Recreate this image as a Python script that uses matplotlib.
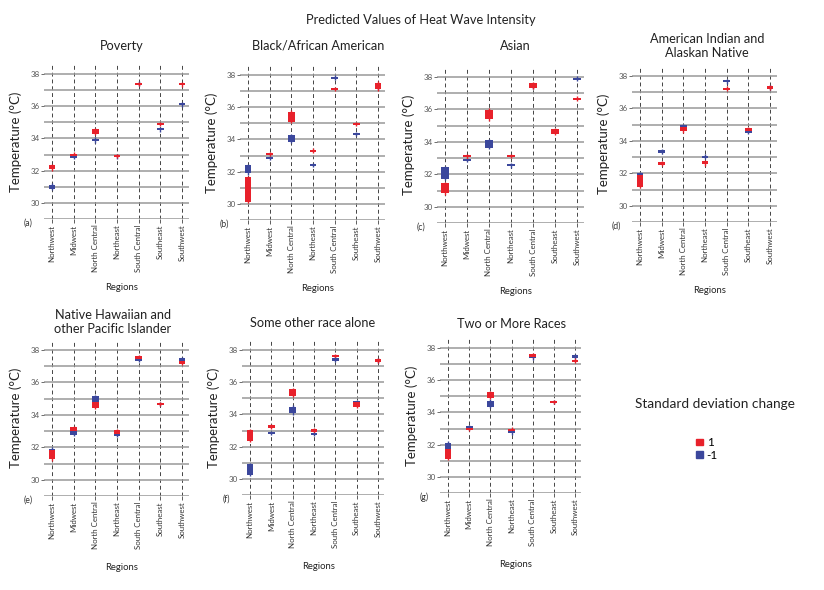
import matplotlib
matplotlib.use('Agg')
import matplotlib.pyplot as plt
from matplotlib.patches import Patch

plt.rcParams['font.family'] = ['Lato', 'DejaVu Sans']

regions = ['Northwest', 'Midwest', 'North Central', 'Northeast',
           'South Central', 'Southeast', 'Southwest']

# (low, high) of each interval box, +1 SD (red) and -1 SD (blue)
poverty_pos = [(32.08, 32.36), (32.94, 33.06), (34.27, 34.57), (32.85, 32.97),
               (37.32, 37.44), (34.83, 34.95), (37.30, 37.42)]
poverty_neg = [(30.88, 31.14), (32.80, 32.95), (33.82, 33.98), (32.82, 32.94),
               (37.35, 37.47), (34.50, 34.64), (36.05, 36.18)]

black_pos = [(30.14, 31.65), (33.05, 33.17), (35.11, 35.73), (33.24, 33.36),
             (37.06, 37.18), (34.89, 35.01), (37.11, 37.53)]
black_neg = [(31.90, 32.39), (32.80, 32.92), (33.84, 34.25), (32.35, 32.47),
             (37.77, 37.90), (34.28, 34.40), (37.14, 37.28)]

asian_pos = [(30.82, 31.44), (33.05, 33.18), (35.39, 35.99), (33.08, 33.20),
             (37.34, 37.60), (34.50, 34.80), (36.60, 36.73)]
asian_neg = [(31.74, 32.46), (32.82, 32.95), (33.65, 34.10), (32.50, 32.62),
             (37.36, 37.50), (34.60, 34.74), (37.84, 37.96)]

aian_pos = [(31.17, 31.90), (32.54, 32.68), (34.58, 34.83), (32.55, 32.75),
            (37.15, 37.28), (34.60, 34.80), (37.20, 37.36)]
aian_neg = [(31.58, 31.99), (33.28, 33.45), (34.77, 34.98), (32.95, 33.09),
            (37.60, 37.75), (34.50, 34.66), (37.24, 37.36)]

nhpi_pos = [(31.26, 31.81), (32.99, 33.26), (34.43, 34.80), (32.82, 33.08),
            (37.45, 37.63), (34.60, 34.72), (37.16, 37.32)]
nhpi_neg = [(31.40, 31.92), (32.78, 32.98), (34.80, 35.15), (32.70, 32.88),
            (37.34, 37.52), (34.60, 34.72), (37.32, 37.48)]

other_pos = [(32.38, 33.02), (33.18, 33.32), (35.15, 35.56), (32.93, 33.07),
             (37.55, 37.70), (34.48, 34.78), (37.28, 37.42)]
other_neg = [(30.25, 30.91), (32.79, 32.92), (34.07, 34.49), (32.72, 32.86),
             (37.34, 37.52), (34.62, 34.82), (37.30, 37.44)]

two_pos = [(31.13, 31.71), (32.90, 33.04), (34.91, 35.26), (32.86, 33.00),
           (37.47, 37.62), (34.58, 34.72), (37.13, 37.27)]
two_neg = [(31.50, 32.12), (33.02, 33.15), (34.33, 34.74), (32.70, 32.86),
           (37.36, 37.52), (34.58, 34.72), (37.40, 37.56)]

titles = ['Poverty', 'Black/African American', 'Asian',
          'American Indian and\nAlaskan Native',
          'Native Hawaiian and\nother Pacific Islander',
          'Some other race alone', 'Two or More Races']
tags = ['(a)', '(b)', '(c)', '(d)', '(e)', '(f)', '(g)']
pos_series = [poverty_pos, black_pos, asian_pos, aian_pos, nhpi_pos, other_pos, two_pos]
neg_series = [poverty_neg, black_neg, asian_neg, aian_neg, nhpi_neg, other_neg, two_neg]

RED = '#e8212b'
BLUE = '#3b479c'
W, H = 824, 590

# pixel layout: first/last category x, y of 38 and 29, title centre
layout = [
    (52, 182, 74, 219, 122, 46),
    (248, 378, 75, 220, 318, 46),
    (445, 577, 77, 223, 515, 46),
    (640, 770, 76, 222, 707, 46),
    (52, 182, 350, 496, 113, 322),
    (250, 378, 350, 495, 313, 323),
    (448, 575, 348, 493, 512, 324),
]

fig = plt.figure(figsize=(W / 100, H / 100), dpi=100)
fig.text(421 / W, 1 - 20 / H, 'Predicted Values of Heat Wave Intensity',
         ha='center', va='center', fontsize=9.3, color='#222')

x = list(range(len(regions)))
for i in range(7):
    first, last, y38, y29, tx, ty = layout[i]
    s = (last - first) / 6
    p = (y29 - y38) / 9
    left = first - 0.37 * s
    right = last + 0.3 * s
    top = y38 - 0.6 * p
    ax = fig.add_axes([left / W, 1 - y29 / H, (right - left) / W, (y29 - top) / H])
    ax.set_xlim(-0.37, 6.3)
    ax.set_ylim(29, 38.6)

    for data, col in [(neg_series[i], BLUE), (pos_series[i], RED)]:
        lo = [d[0] for d in data]
        hi = [d[1] for d in data]
        ax.vlines(x, [v - 0.08 for v in lo], [v + 0.08 for v in hi], color=col, lw=1, zorder=3)
        ax.bar(x, [h - l for l, h in zip(lo, hi)], bottom=lo, width=0.32,
               color=col, zorder=4)

    ax.set_yticks([30, 32, 34, 36, 38])
    ax.set_yticks([29, 31, 33, 35, 37], minor=True)
    ax.set_xticks(x)
    ax.set_xticklabels(regions, rotation=90, fontsize=5.7, color='#333')
    ax.tick_params(axis='y', which='major', labelsize=5.7, labelcolor='#555',
                   length=2, width=0.6, color='#555', pad=1)
    ax.tick_params(axis='y', which='minor', length=0)
    ax.tick_params(axis='x', length=3, width=0.6, color='#444', pad=1)
    ax.grid(axis='y', which='both', color='#999', lw=1.1)
    ax.grid(axis='x', color='#444', lw=0.7, linestyle=(0, (4, 3)))
    ax.set_axisbelow(True)
    for sp in ax.spines.values():
        sp.set_visible(False)

    ax_w = right - left
    ax_h = y29 - top
    ax.set_ylabel('Temperature (°C)', fontsize=9.5, color='#222')
    ax.yaxis.set_label_coords(-22 / ax_w, 0.5)
    ax.set_xlabel('Regions', fontsize=6.8, color='#222')
    ax.xaxis.set_label_coords(0.5 + 5 / ax_w, -(64 if i < 4 else 67) / ax_h)
    ax.text(-16 / ax_w, -4 / ax_h, tags[i], transform=ax.transAxes,
            fontsize=6.3, color='#333', ha='center', va='center')

    fig.text(tx / W, 1 - ty / H, titles[i], ha='center', va='center',
             fontsize=9.2, color='#222', linespacing=1.2)

# legend
fig.text(715 / W, 1 - 404 / H, 'Standard deviation change', ha='center',
         va='center', fontsize=9.8, color='#222')
handles = [Patch(color=RED), Patch(color=BLUE)]
fig.legend(handles, ['1', '-1'], loc='center', bbox_to_anchor=(707 / W, 1 - 449 / H),
           frameon=False, handlelength=0.6, handleheight=0.5, handletextpad=0.3,
           labelspacing=0.15, fontsize=8.5)

fig.savefig('out.png', dpi=100)
